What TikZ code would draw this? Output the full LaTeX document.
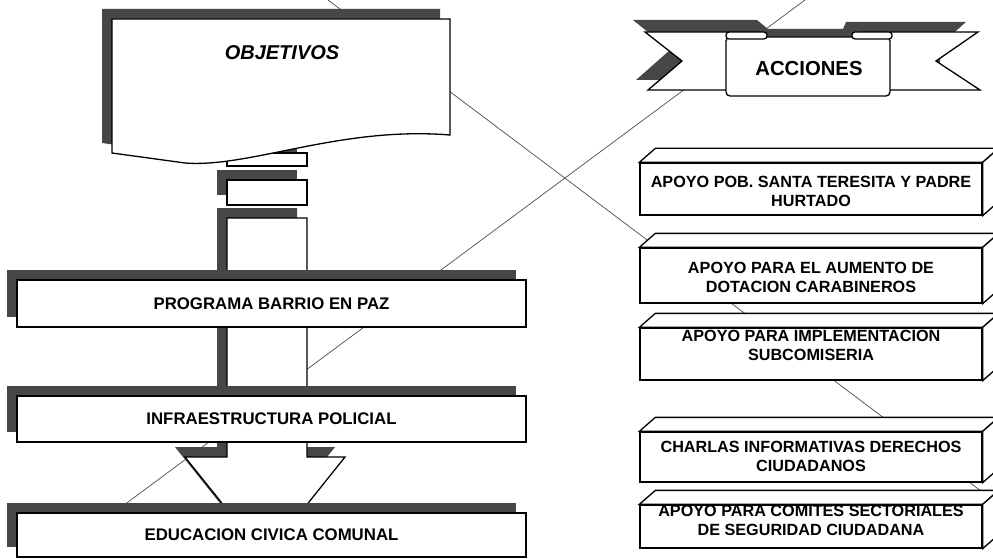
\documentclass[tikz,border=0pt]{standalone}
\usepackage{fontspec}
\setmainfont{Liberation Sans}
\usepackage{tikz}
\usetikzlibrary{shadows}
\definecolor{shadowgray}{gray}{0.28}
\tikzstyle{dropsh} = [drop shadow={shadow xshift=-10pt,shadow yshift=10pt,fill=shadowgray,opacity=1}]
\tikzstyle{panel} = [draw,fill=white,line width=1.3pt]
\tikzstyle{lbox} = [panel,dropsh,minimum width=509pt,inner sep=0pt,font=\fontsize{16.8}{19}\selectfont\bfseries]
\tikzstyle{cube} = [panel,minimum width=342pt,inner sep=0pt]
\tikzstyle{cubetxt} = [align=center,font=\fontsize{16.2}{19}\selectfont\bfseries]
\tikzstyle{crossline} = [line width=0.7pt,black!70]

\begin{document}
\begin{tikzpicture}[x=1pt,y=-1pt]
  \useasboundingbox (0,0) rectangle (993,559);
  % lineas cruzadas del fondo
  \coordinate (c1) at (328,0);
  \coordinate (c2) at (993,500);
  \coordinate (c3) at (805,0);
  \coordinate (c4) at (120,508);
  \draw[crossline] (c1) -- (c2);
  \draw[crossline] (c3) -- (c4);

  % flecha de bloque
  \draw[panel,dropsh] (227,153) rectangle (307,166);
  \draw[panel,dropsh] (227,180) rectangle (307,205);
  \draw[panel,dropsh] (227,218) -- (307,218) -- (307,457) -- (345,457) -- (265,557) -- (185,457) -- (227,457) -- cycle;

  % objetivos
  \draw[panel,dropsh] (112,19) -- (450,19) -- (450,135) .. controls (340,126) and (250,168) .. (185,163) -- (112,153) -- cycle;
  \node[font=\fontsize{20}{22}\selectfont\bfseries\itshape] (obj) at (282,53) {OBJETIVOS};

  \node[lbox,minimum height=47pt] (prog) at (271.5,303.5) {PROGRAMA BARRIO EN PAZ};
  \node[lbox,minimum height=46pt] (infra) at (271.5,419) {INFRAESTRUCTURA POLICIAL};
  \node[lbox,minimum height=44pt] (edu) at (271.5,535) {EDUCACION CIVICA COMUNAL};

  % cinta acciones
  \fill[shadowgray] (633,20) -- (757,20) -- (768,29) -- (843,29) -- (846,22) -- (966,22) -- (940,45) -- (940,80) -- (636,80) -- (670,50) -- cycle;
  \draw[panel] (760,32) -- (645,32) -- (682,61) -- (648,90) -- (760,90);
  \draw[panel] (860,32) -- (978,32) -- (936,61) -- (980,90) -- (860,90);
  \draw[panel,rounded corners=4pt] (726,37) rectangle (890,96);
  \draw[panel,rounded corners=3pt] (726,32) rectangle (767,39);
  \draw[panel,rounded corners=3pt] (852,32) rectangle (892,39);
  \node[font=\fontsize{20.3}{22}\selectfont\bfseries] (acc) at (809,69) {ACCIONES};

  % acciones
  \node[cube,minimum height=52pt] (a1) at (811,189) {};
  \draw[panel] (a1.north west) -- ++(16,-14) -- ([shift={(16pt,14pt)}]a1.north east) -- (a1.north east) -- cycle;
  \draw[panel] (a1.north east) -- ([shift={(16pt,14pt)}]a1.north east) -- ([shift={(16pt,14pt)}]a1.south east) -- (a1.south east) -- cycle;
  \node[cubetxt] (t1) at (811,191) {APOYO POB. SANTA TERESITA Y PADRE\\HURTADO};

  \node[cube,minimum height=55pt] (a2) at (811,275.5) {};
  \draw[panel] (a2.north west) -- ++(16,-14) -- ([shift={(16pt,14pt)}]a2.north east) -- (a2.north east) -- cycle;
  \draw[panel] (a2.north east) -- ([shift={(16pt,14pt)}]a2.north east) -- ([shift={(16pt,14pt)}]a2.south east) -- (a2.south east) -- cycle;
  \node[cubetxt] (t2) at (811,277.5) {APOYO PARA EL AUMENTO DE\\DOTACION CARABINEROS};

  \node[cube,minimum height=52pt] (a3) at (811,354) {};
  \draw[panel] (a3.north west) -- ++(16,-14) -- ([shift={(16pt,14pt)}]a3.north east) -- (a3.north east) -- cycle;
  \draw[panel] (a3.north east) -- ([shift={(16pt,14pt)}]a3.north east) -- ([shift={(16pt,14pt)}]a3.south east) -- (a3.south east) -- cycle;
  \node[cubetxt] (t3) at (811,345) {APOYO PARA IMPLEMENTACION\\SUBCOMISERIA};

  \node[cube,minimum height=50pt] (a4) at (811,457) {};
  \draw[panel] (a4.north west) -- ++(16,-14) -- ([shift={(16pt,14pt)}]a4.north east) -- (a4.north east) -- cycle;
  \draw[panel] (a4.north east) -- ([shift={(16pt,14pt)}]a4.north east) -- ([shift={(16pt,14pt)}]a4.south east) -- (a4.south east) -- cycle;
  \node[cubetxt] (t4) at (811,456) {CHARLAS INFORMATIVAS DERECHOS\\CIUDADANOS};

  \node[cube,minimum height=43pt] (a5) at (811,526.5) {};
  \draw[panel] (a5.north west) -- ++(16,-14) -- ([shift={(16pt,14pt)}]a5.north east) -- (a5.north east) -- cycle;
  \draw[panel] (a5.north east) -- ([shift={(16pt,14pt)}]a5.north east) -- ([shift={(16pt,14pt)}]a5.south east) -- (a5.south east) -- cycle;
  \node[cubetxt] (t5) at (811,520.5) {APOYO PARA COMITES SECTORIALES\\DE SEGURIDAD CIUDADANA};
\end{tikzpicture}
\end{document}
